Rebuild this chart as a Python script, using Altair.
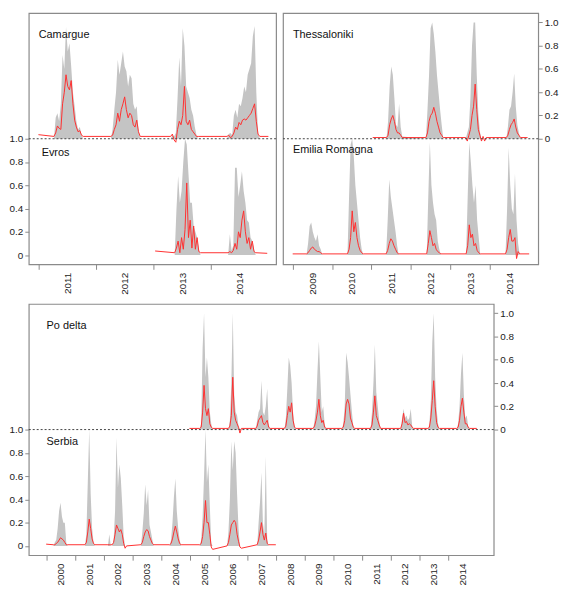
import altair as alt
import pandas as pd

# ---------------- data (decimal years, values 0..1) ----------------
STEP_TOP_LEFT = 0.03
STEP_TOP_RIGHT = 0.04
STEP_BOTTOM = 0.05

# Camargue (top-left, upper half)
CAMARGUE_SPAN = [2011.0, 2015.0]
CAMARGUE_SPAN_RED = [0.035, 0.02]
CAMARGUE_START = [2011.27, 2012.26, 2013.30, 2014.28]
CAMARGUE_GRAY = [
    [0.0, 0.18, 0.22, 0.15, 0.30, 0.72, 0.60, 0.96, 0.75, 0.82, 0.62, 0.40, 0.28, 0.15, 0.08, 0.10, 0.03, 0.0],
    [0.0, 0.08, 0.25, 0.40, 0.68, 0.55, 0.65, 0.75, 0.62, 0.58, 0.45, 0.55, 0.52, 0.30, 0.25, 0.28, 0.08, 0.0],
    [0.0, 0.03, 0.02, 0.05, 0.35, 0.70, 0.45, 0.95, 0.80, 0.45, 0.40, 0.35, 0.25, 0.20, 0.10, 0.03, 0.0],
    [0.0, 0.04, 0.05, 0.03, 0.20, 0.25, 0.18, 0.30, 0.28, 0.35, 0.45, 0.40, 0.55, 0.60, 0.65, 0.88, 0.97, 0.40, 0.05, 0.0],
]
CAMARGUE_RED = [
    [0.02, 0.05, 0.11, 0.09, 0.08, 0.30, 0.40, 0.55, 0.45, 0.42, 0.50, 0.30, 0.16, 0.10, 0.06, 0.07, 0.03, 0.02],
    [0.02, 0.03, 0.08, 0.12, 0.22, 0.15, 0.25, 0.30, 0.36, 0.25, 0.18, 0.22, 0.20, 0.12, 0.10, 0.16, 0.06, 0.02],
    [0.02, 0.04, -0.01, -0.03, 0.08, 0.15, 0.12, 0.20, 0.45, 0.15, 0.12, 0.16, 0.08, 0.06, 0.04, 0.02, 0.02],
    [0.02, 0.03, 0.01, 0.02, 0.05, 0.10, 0.08, 0.14, 0.12, 0.16, 0.17, 0.16, 0.18, 0.20, 0.22, 0.26, 0.30, 0.15, 0.04, 0.02],
]

# Evros (top-left, lower half)
EVROS_SPAN = [2013.03, 2014.98]
EVROS_SPAN_RED = [0.035, 0.015]
EVROS_START = [2013.37, 2014.30]
EVROS_GRAY = [
    [0.0, 0.38, 0.68, 0.45, 0.55, 0.80, 1.00, 0.95, 0.70, 0.45, 0.45, 0.25, 0.20, 0.15, 0.05, 0.0],
    [0.0, 0.18, 0.04, 0.08, 0.75, 0.75, 0.50, 0.60, 0.72, 0.55, 0.45, 0.30, 0.28, 0.15, 0.12, 0.05, 0.0],
]
EVROS_RED = [
    [0.02, 0.06, 0.12, 0.02, 0.15, 0.05, 0.22, 0.62, 0.15, 0.30, 0.06, 0.25, 0.05, 0.15, 0.03, 0.02],
    [0.02, 0.03, 0.02, 0.04, 0.10, 0.05, 0.20, 0.15, 0.30, 0.38, 0.20, 0.10, 0.15, 0.05, 0.12, 0.03, 0.02],
]

# Thessaloniki (top-right, upper half)
THESS_SPAN = [2011.03, 2014.96]
THESS_SPAN_RED = [0.01, 0.01]
THESS_START = [2011.38, 2012.38, 2013.39, 2014.42]
THESS_GRAY = [
    [0.0, 0.15, 0.45, 0.62, 0.55, 0.35, 0.12, 0.10, 0.30, 0.10, 0.02],
    [0.0, 0.25, 0.55, 0.95, 1.00, 0.90, 0.75, 0.55, 0.40, 0.25, 0.12, 0.0],
    [0.0, 0.05, 0.10, 0.35, 0.80, 1.00, 1.00, 0.55, 0.22, 0.06, 0.0, 0.0, 0.0, 0.0],
    [0.0, 0.10, 0.25, 0.28, 0.40, 0.56, 0.28, 0.12, 0.05, 0.0],
]
THESS_RED = [
    [0.01, 0.03, 0.12, 0.17, 0.20, 0.15, 0.08, 0.05, 0.05, 0.03, 0.01],
    [0.01, 0.05, 0.15, 0.20, 0.22, 0.27, 0.22, 0.15, 0.10, 0.05, 0.03, 0.01],
    [0.01, -0.02, 0.03, 0.08, 0.20, 0.28, 0.47, 0.25, 0.08, 0.03, -0.02, 0.02, -0.02, 0.01],
    [0.01, 0.03, 0.08, 0.12, 0.14, 0.17, 0.10, 0.05, 0.03, 0.01],
]

# Emilia Romagna (top-right, lower half)
EMILIA_SPAN = [2009.0, 2015.0]
EMILIA_SPAN_RED = [0.01, 0.01]
EMILIA_START = [2009.35, 2010.39, 2011.37, 2012.40, 2013.40, 2014.40]
EMILIA_GRAY = [
    [0.0, 0.10, 0.25, 0.28, 0.20, 0.15, 0.12, 0.18, 0.08, 0.05, 0.0],
    [0.0, 0.50, 0.95, 1.00, 0.85, 0.60, 0.45, 0.30, 0.15, 0.05, 0.0],
    [0.0, 0.30, 0.65, 0.50, 0.40, 0.30, 0.20, 0.08, 0.0],
    [0.0, 0.50, 0.97, 0.60, 0.45, 0.35, 0.30, 0.12, 0.05, 0.0],
    [0.0, 0.50, 0.97, 0.80, 0.60, 0.45, 0.60, 0.30, 0.15, 0.0],
    [0.0, 0.40, 0.92, 0.60, 0.40, 0.35, 0.70, 0.30, 0.10, 0.0],
]
EMILIA_RED = [
    [0.01, 0.02, 0.04, 0.06, 0.07, 0.05, 0.04, 0.03, 0.03, 0.02, 0.01],
    [0.01, 0.05, 0.15, 0.38, 0.20, 0.28, 0.15, 0.08, 0.04, 0.02, 0.01],
    [0.01, 0.04, 0.10, 0.14, 0.12, 0.08, 0.05, 0.02, 0.01],
    [0.01, 0.10, 0.21, 0.15, 0.08, 0.10, 0.05, 0.03, 0.02, 0.01],
    [0.01, 0.08, 0.26, 0.15, 0.18, 0.08, 0.10, 0.04, 0.02, 0.01],
    [0.01, 0.05, 0.15, 0.22, 0.12, 0.12, 0.15, -0.03, 0.03, 0.01],
]

# Po delta (bottom, upper half)
PO_SPAN = [2004.99, 2015.0]
PO_SPAN_RED = [0.01, 0.01]
PO_START = [2005.35, 2006.35, 2007.30, 2008.30, 2009.30, 2010.30, 2011.30, 2012.35, 2013.30, 2014.30]
PO_GRAY = [
    [0.0, 0.05, 0.70, 1.00, 0.45, 0.62, 0.45, 0.15, 0.05, 0.0],
    [0.0, 0.08, 0.40, 1.00, 0.30, 0.15, 0.12, 0.03, 0.0, 0.0],
    [0.0, 0.08, 0.15, 0.18, 0.42, 0.15, 0.12, 0.20, 0.35, 0.05, 0.0],
    [0.0, 0.10, 0.35, 0.62, 0.55, 0.40, 0.15, 0.03, 0.0],
    [0.0, 0.08, 0.20, 0.50, 0.76, 0.45, 0.15, 0.20, 0.05, 0.0],
    [0.0, 0.05, 0.20, 0.66, 0.58, 0.45, 0.30, 0.15, 0.03, 0.0],
    [0.0, 0.15, 0.40, 0.73, 0.32, 0.20, 0.08, 0.0],
    [0.0, 0.10, 0.18, 0.10, 0.12, 0.08, 0.10, 0.18, 0.03, 0.0],
    [0.0, 0.05, 0.25, 0.75, 1.00, 0.45, 0.18, 0.05, 0.0],
    [0.0, 0.05, 0.20, 0.48, 0.66, 0.30, 0.10, 0.12, 0.03, 0.0],
]
PO_RED = [
    [0.01, 0.02, 0.15, 0.38, 0.18, 0.12, 0.18, 0.05, 0.02, 0.01],
    [0.01, 0.03, 0.12, 0.45, 0.15, 0.08, 0.05, 0.02, -0.03, 0.01],
    [0.01, 0.03, 0.08, 0.10, 0.12, 0.06, 0.04, 0.06, 0.08, 0.02, 0.01],
    [0.01, 0.03, 0.12, 0.20, 0.15, 0.23, 0.08, 0.02, 0.01],
    [0.01, 0.03, 0.08, 0.15, 0.26, 0.12, 0.06, 0.08, 0.02, 0.01],
    [0.01, 0.02, 0.08, 0.22, 0.26, 0.22, 0.10, 0.06, 0.02, 0.01],
    [0.01, 0.04, 0.15, 0.29, 0.12, 0.08, 0.04, 0.01],
    [0.01, 0.05, 0.14, 0.06, 0.07, 0.04, 0.05, 0.04, 0.02, 0.01],
    [0.01, 0.02, 0.10, 0.25, 0.42, 0.20, 0.06, 0.02, 0.01],
    [0.01, 0.02, 0.08, 0.20, 0.27, 0.15, 0.05, 0.05, 0.02, 0.01],
]

# Serbia (bottom, lower half)
SERBIA_SPAN = [2000.0, 2008.0]
SERBIA_SPAN_RED = [0.015, 0.01]
SERBIA_START = [2000.25, 2001.35, 2002.15, 2003.30, 2004.30, 2005.35, 2006.30, 2007.35]
SERBIA_GRAY = [
    [0.0, 0.03, 0.05, 0.15, 0.30, 0.37, 0.25, 0.20, 0.20, 0.03, 0.0],
    [0.0, 0.10, 0.55, 1.00, 0.45, 0.15, 0.03, 0.0],
    [0.0, 0.10, 0.0, 0.0, 0.05, 0.30, 0.93, 0.50, 0.70, 0.58, 0.35, 0.08, 0.0, 0.0],
    [0.0, 0.12, 0.28, 0.53, 0.35, 0.48, 0.18, 0.12, 0.05, 0.0],
    [0.0, 0.05, 0.20, 0.42, 0.58, 0.30, 0.15, 0.05, 0.0],
    [0.0, 0.05, 0.25, 0.60, 1.00, 0.55, 0.70, 0.35, 0.02, 0.0],
    [0.0, 0.12, 0.40, 0.90, 0.65, 0.90, 0.80, 0.45, 0.15, 0.0, 0.0],
    [0.0, 0.20, 0.38, 0.63, 0.20, 0.10, 0.77, 0.05, 0.0],
]
SERBIA_RED = [
    [0.01, 0.01, 0.02, 0.03, 0.05, 0.07, 0.06, 0.05, 0.03, 0.01, 0.01],
    [0.01, 0.03, 0.12, 0.23, 0.15, 0.06, 0.02, 0.01],
    [0.01, 0.01, 0.01, 0.01, 0.03, 0.10, 0.18, 0.15, 0.12, 0.14, 0.10, 0.02, -0.02, 0.0],
    [0.01, 0.03, 0.08, 0.12, 0.14, 0.13, 0.08, 0.05, 0.02, 0.01],
    [0.01, 0.02, 0.06, 0.12, 0.17, 0.12, 0.06, 0.02, 0.01],
    [0.01, 0.02, 0.08, 0.20, 0.39, 0.20, 0.20, 0.10, -0.01, -0.03],
    [0.0, 0.03, 0.10, 0.18, 0.20, 0.22, 0.20, 0.10, 0.04, -0.01, -0.02],
    [0.01, 0.05, 0.12, 0.20, 0.10, 0.05, 0.11, 0.02, 0.01],
]

# axes / labels
TL_TICK_YEARS = [2011, 2012, 2013, 2014]
TR_TICK_YEARS = [2009, 2010, 2011, 2012, 2013, 2014]
BOTTOM_TICK_YEARS = list(range(2000, 2015))
LOWER_TICKS = [0.0, 0.2, 0.4, 0.6, 0.8, 1.0]
UPPER_TICKS = [1.0, 1.2, 1.4, 1.6, 1.8, 2.0]
DIVIDER = [1.0]

# ---------------- styling ----------------
GRAY_FILL = "#c4c4c4"
RED = "#ff3030"
FRAME = "#8a8a8a"
FONT = "Liberation Sans"
YDOM = [-0.08, 2.08]
H = 254


def build(sites):
    g, r = [], []
    for name, slot, span, span_red, starts, step, grays, reds in sites:
        r.append({"site": name, "slot": slot, "t": span[0], "v": span_red[0]})
        for s, gs, rs in zip(starts, grays, reds):
            for j, (gv, rv) in enumerate(zip(gs, rs)):
                t = round(s + j * step, 4)
                g.append({"site": name, "slot": slot, "t": t, "v": gv})
                r.append({"site": name, "slot": slot, "t": t, "v": rv})
        r.append({"site": name, "slot": slot, "t": span[1], "v": span_red[1]})
    return pd.DataFrame(g), pd.DataFrame(r)


def panel(sites, labels, xdom, tick_years, width, left, right):
    gdf, rdf = build(sites)
    ldf = pd.DataFrame(labels, columns=["name", "px", "ypos"])
    xs = alt.Scale(domain=xdom, nice=False, zero=False)
    ys = alt.Scale(domain=YDOM, nice=False, zero=False)
    tick_axis = alt.Axis(values=tick_years, orient="bottom", labels=False, ticks=True,
                         tickSize=5, domain=False, grid=False, title=None)
    label_axis = alt.Axis(values=[y + 0.5 for y in tick_years], orient="bottom",
                          ticks=False, tickSize=0, labelAngle=270, labelPadding=8,
                          labelExpr="'' + floor(datum.value)",
                          domain=False, grid=False, title=None, labelFlush=False,
                          labelOverlap=False)
    left_axis = alt.Axis(values=LOWER_TICKS, orient="left", tickSize=4, labelPadding=2,
                         labelExpr="datum.value < 0.01 ? '0' : format(datum.value, '.1f')",
                         domain=False, grid=False, title=None, labelFlush=False,
                         labelOverlap=False)
    right_axis = alt.Axis(values=UPPER_TICKS, orient="right", tickSize=4, labelPadding=2,
                          labelExpr="datum.value < 1.01 ? '0' : format(datum.value - 1, '.1f')",
                          domain=False, grid=False, title=None, labelFlush=False,
                          labelOverlap=False)

    gray = alt.Chart(gdf).transform_calculate(
        hi="datum.v + datum.slot", lo="datum.slot"
    ).mark_area(color=GRAY_FILL, interpolate="linear").encode(
        x=alt.X("t:Q", scale=xs, axis=tick_axis),
        y=alt.Y("hi:Q", scale=ys, axis=left_axis if left else None),
        y2="lo:Q",
        detail="site:N",
    )
    red = alt.Chart(rdf).transform_calculate(
        yv="datum.v + datum.slot"
    ).mark_line(color=RED, strokeWidth=1).encode(
        x=alt.X("t:Q", scale=xs, axis=label_axis),
        y=alt.Y("yv:Q", scale=ys, axis=right_axis if right else None),
        detail="site:N",
    )
    rule = alt.Chart(pd.DataFrame({"y": DIVIDER})).mark_rule(
        strokeDash=[2, 2], color="#444", strokeWidth=1
    ).encode(y=alt.Y("y:Q", scale=ys, axis=None))
    text = alt.Chart(ldf).mark_text(
        align="left", baseline="middle", font=FONT, fontSize=11, color="#111"
    ).encode(
        x=alt.X("px:Q", scale=None, axis=None),
        y=alt.Y("ypos:Q", scale=ys, axis=None),
        text="name:N",
    )
    return alt.layer(gray, red, rule, text).resolve_axis(
        x="independent", y="independent"
    ).properties(width=width, height=H)


tl = panel(
    [("Camargue", 1, CAMARGUE_SPAN, CAMARGUE_SPAN_RED, CAMARGUE_START, STEP_TOP_LEFT, CAMARGUE_GRAY, CAMARGUE_RED),
     ("Evros", 0, EVROS_SPAN, EVROS_SPAN_RED, EVROS_START, STEP_TOP_LEFT, EVROS_GRAY, EVROS_RED)],
    [("Camargue", 10, 1.89), ("Evros", 13, 0.88)],
    [2010.832, 2015.134], TL_TICK_YEARS, 250, True, False,
)
tr = panel(
    [("Thessaloniki", 1, THESS_SPAN, THESS_SPAN_RED, THESS_START, STEP_TOP_RIGHT, THESS_GRAY, THESS_RED),
     ("Emilia Romagna", 0, EMILIA_SPAN, EMILIA_SPAN_RED, EMILIA_START, STEP_TOP_RIGHT, EMILIA_GRAY, EMILIA_RED)],
    [("Thessaloniki", 10, 1.89), ("Emilia Romagna", 10, 0.9)],
    [2008.754, 2015.23], TR_TICK_YEARS, 258, False, True,
)
bottom = panel(
    [("Po delta", 1, PO_SPAN, PO_SPAN_RED, PO_START, STEP_BOTTOM, PO_GRAY, PO_RED),
     ("Serbia", 0, SERBIA_SPAN, SERBIA_SPAN_RED, SERBIA_START, STEP_BOTTOM, SERBIA_GRAY, SERBIA_RED)],
    [("Po delta", 18, 1.89), ("Serbia", 18, 0.89)],
    [1999.394, 2015.59], BOTTOM_TICK_YEARS, 470, True, True,
)

top = alt.hconcat(tl, tr, spacing=3).resolve_scale(x="independent", y="independent")
chart = alt.vconcat(top, bottom, spacing=8).resolve_scale(
    x="independent", y="independent"
).properties(
    padding={"left": 0, "right": 0, "top": 1, "bottom": 0}
).configure_view(
    stroke=FRAME, strokeWidth=1.2
).configure_axis(
    labelFont=FONT, labelFontSize=10, labelColor="#222", tickColor=FRAME, tickWidth=1
)

chart.save("out.html", embed_options={"renderer": "svg", "actions": False})
